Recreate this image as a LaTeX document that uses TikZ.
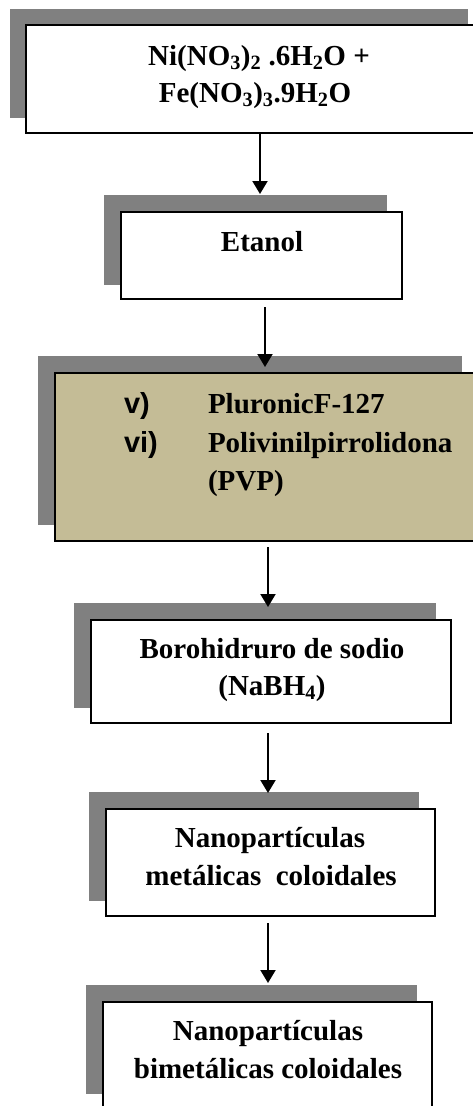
\documentclass[tikz,border=0pt]{standalone}
\usepackage{fontspec}
\setmainfont{Liberation Serif}
\newfontfamily\lsans{Liberation Sans}
\usetikzlibrary{arrows.meta}
\definecolor{shadowgray}{HTML}{808080}
\definecolor{tanfill}{HTML}{C4BC96}
\tikzset{
  shadowbox/.style={fill=shadowgray, draw=none},
  mainbox/.style={draw=black, line width=1.6pt, fill=white},
  tanbox/.style={draw=black, line width=1.6pt, fill=tanfill},
  txt/.style={font=\fontsize{29}{38}\selectfont\bfseries, inner sep=0pt, outer sep=0pt, anchor=base},
  txtl/.style={txt, anchor=base west},
  lbl/.style={font=\fontsize{29}{38}\selectfont\lsans\bfseries, inner sep=0pt, outer sep=0pt, anchor=base west},
  arr/.style={line width=2pt, -{Triangle[width=15pt,length=13pt]}}
}
\begin{document}
\begin{tikzpicture}[x=1pt,y=-1pt]
\useasboundingbox (0,0) rectangle (473,1106);
\clip (0,0) rectangle (473,1106);
% box 1
\path[shadowbox] (10,9) rectangle (468,118);
\draw[mainbox] (26,25) rectangle (490,133);
\node[txt] (t1a) at (259,65) {Ni(NO\textsubscript{3})\textsubscript{2} .6H\textsubscript{2}O +};
\node[txt] (t1b) at (255,102) {Fe(NO\textsubscript{3})\textsubscript{3}.9H\textsubscript{2}O};
% box 2
\path[shadowbox] (104,195) rectangle (387,285);
\draw[mainbox] (121,212) rectangle (402,299);
\node[txt] (t2) at (262,251) {Etanol};
% box 3
\path[shadowbox] (38,356) rectangle (462,525);
\draw[tanbox] (55,373) rectangle (490,541);
\node[lbl] (l3a) at (124,413) {v)};
\node[txtl] (t3a) at (208,413) {PluronicF-127};
\node[lbl] (l3b) at (124,452) {vi)};
\node[txtl] (t3b) at (208,452) {Polivinilpirrolidona};
\node[txtl] (t3c) at (208,490) {(PVP)};
% box 4
\path[shadowbox] (74,603) rectangle (436,708);
\draw[mainbox] (91,620) rectangle (451,723);
\node[txt] (t4a) at (272,658) {Borohidruro de sodio};
\node[txt] (t4b) at (272,695) {(NaBH\textsubscript{4})};
% box 5
\path[shadowbox] (89,792) rectangle (419,901);
\draw[mainbox] (106,809) rectangle (435,916);
\node[txt] (t5a) at (270,847) {Nanopartículas};
\node[txt] (t5b) at (271,885) {metálicas\ \ coloidales};
% box 6
\path[shadowbox] (86,985) rectangle (417,1094);
\draw[mainbox] (103,1002) rectangle (432,1130);
\node[txt] (t6a) at (268,1040) {Nanopartículas};
\node[txt] (t6b) at (268,1078) {bimetálicas coloidales};
% arrows
\coordinate (a1s) at (260,134);
\coordinate (a1e) at (260,194);
\coordinate (a2s) at (265,307);
\coordinate (a2e) at (265,367);
\coordinate (a3s) at (268,547);
\coordinate (a3e) at (268,607);
\coordinate (a4s) at (268,733);
\coordinate (a4e) at (268,793);
\coordinate (a5s) at (268,923);
\coordinate (a5e) at (268,983);
\draw[arr] (a1s) -- (a1e);
\draw[arr] (a2s) -- (a2e);
\draw[arr] (a3s) -- (a3e);
\draw[arr] (a4s) -- (a4e);
\draw[arr] (a5s) -- (a5e);
\end{tikzpicture}
\end{document}
